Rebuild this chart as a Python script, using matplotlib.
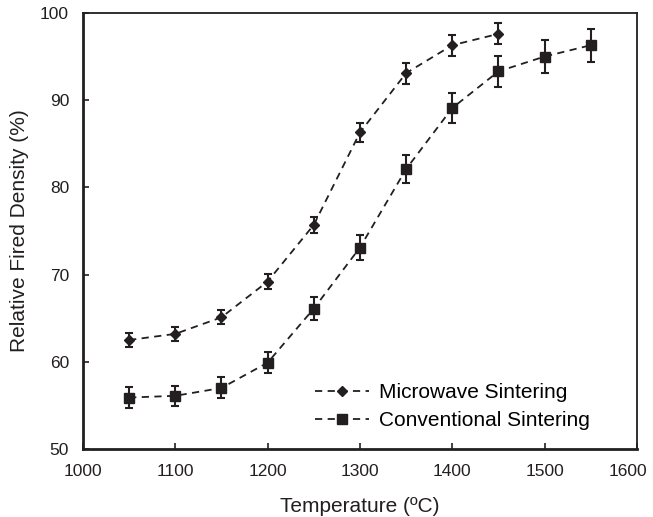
import numpy as np
import matplotlib.pyplot as plt
from matplotlib.transforms import ScaledTranslation

plt.rcParams['font.family'] = ['Liberation Sans', 'DejaVu Sans']

# data
temp_mw = [1050, 1100, 1150, 1200, 1250, 1300, 1350, 1400, 1450]
dens_mw = [62.5, 63.2, 65.1, 69.2, 75.7, 86.3, 93.1, 96.3, 97.6]
err_mw = [0.8, 0.8, 0.8, 0.85, 0.9, 1.05, 1.2, 1.2, 1.2]

temp_cv = [1050, 1100, 1150, 1200, 1250, 1300, 1350, 1400, 1450, 1500, 1550]
dens_cv = [55.9, 56.1, 57.0, 59.9, 66.1, 73.1, 82.1, 89.1, 93.3, 95.0, 96.3]
err_cv = [1.2, 1.15, 1.2, 1.2, 1.3, 1.4, 1.6, 1.75, 1.8, 1.9, 1.9]

xticks = [1000, 1100, 1200, 1300, 1400, 1500, 1600]
yticks = [50, 60, 70, 80, 90, 100]

col = '#231f20'

fig = plt.figure(figsize=(6.53, 5.17), dpi=100)
ax = fig.add_axes([0.127, 0.1315, 0.8485, 0.8435])

ax.errorbar(temp_mw, dens_mw, yerr=err_mw, color=col, ls=(0, (4, 3)), lw=1.3,
            marker='D', ms=5.5, capsize=3, capthick=1.5, elinewidth=1.5,
            label='Microwave Sintering')
ax.errorbar(temp_cv, dens_cv, yerr=err_cv, color=col, ls=(0, (4, 3)), lw=1.3,
            marker='s', ms=7.5, capsize=3, capthick=1.5, elinewidth=1.5,
            label='Conventional Sintering')

ax.set_xlim(1000, 1600)
ax.set_ylim(50, 100)
ax.set_xticks(xticks)
ax.set_yticks(yticks)
ax.tick_params(direction='in', length=4, width=1.2, labelsize=12.5, colors=col, pad=10)
ax.tick_params(axis='x', pad=11)
for s in ax.spines.values():
    s.set_linewidth(1.3)
    s.set_color(col)
ax.spines['bottom'].set_linewidth(2)
ax.spines['left'].set_linewidth(2)

# last x label nudged left so it stays inside the figure
last = ax.get_xticklabels()[-1]
last.set_transform(last.get_transform() + ScaledTranslation(-0.09, 0, fig.dpi_scale_trans))

ax.set_xlabel('Temperature (ºC)', fontsize=15, color=col, labelpad=13)
ax.set_ylabel('Relative Fired Density (%)', fontsize=15, color=col, labelpad=8)

handles, labels = ax.get_legend_handles_labels()
handles = [h[0] for h in handles]
ax.legend(handles, labels, loc='lower left', bbox_to_anchor=(0.418, 0.044),
          frameon=False, fontsize=15, handlelength=2.6, handletextpad=0.5,
          labelspacing=0.4, borderaxespad=0, borderpad=0)

fig.savefig('out.png', dpi=100)
